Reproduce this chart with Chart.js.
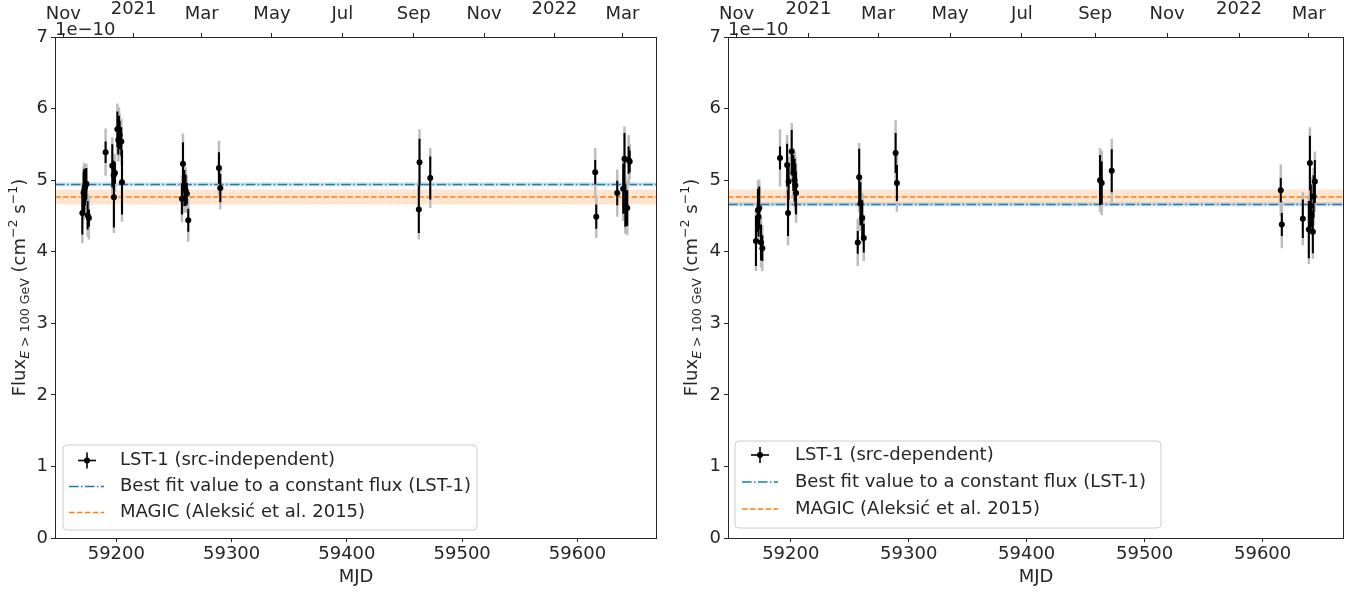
<!DOCTYPE html>
<html><head><meta charset="utf-8">
<script src="https://cdn.jsdelivr.net/npm/chart.js@4.4.0/dist/chart.umd.min.js"></script>
<style>
html,body{margin:0;padding:0;background:#fff;overflow:hidden}
#wrap{position:relative;width:1364px;height:593px}
canvas{position:absolute;top:0}
</style></head><body>
<div id="wrap">
<canvas id="c1" width="680" height="593" style="left:0"></canvas>
<canvas id="c2" width="684" height="593" style="left:680px"></canvas>
</div>
<script>
// ---------- data ----------
const mjdTicks = [59200, 59300, 59400, 59500, 59600];
const yTicks = [0, 1, 2, 3, 4, 5, 6, 7];
const topTickMjd = [59154, 59215, 59274, 59335, 59396, 59458, 59519, 59580, 59639];
const topTickLabels = ['Nov', '2021', 'Mar', 'May', 'Jul', 'Sep', 'Nov', '2022', 'Mar'];
const xRange = [59146.8, 59669.0];
const yRange = [0, 7];

// MAGIC reference (1e-10 cm^-2 s^-1)
const magicFlux = 4.765, magicErr = 0.105;

// left panel: src-independent
const indepMjd = [59170.5, 59171.6, 59172.2, 59172.8, 59173.4, 59174.0, 59175.1, 59176.2,
  59190.7, 59196.5, 59197.7, 59197.9, 59198.8, 59200.9, 59201.7, 59202.3, 59202.9, 59204.3, 59204.9,
  59256.9, 59257.8, 59259.0, 59260.1, 59261.2, 59262.4,
  59289.0, 59290.2,
  59462.4, 59463.0, 59472.3,
  59615.4, 59616.3, 59634.5, 59639.7, 59640.8, 59641.5, 59643.2, 59644.4, 59645.3];
const indepFlux = [4.54, 4.82, 4.86, 4.90, 4.93, 4.95, 4.51, 4.47,
  5.39, 5.20, 5.07, 4.76, 5.10, 5.71, 5.56, 5.70, 5.63, 5.54, 4.97,
  4.74, 5.23, 4.89, 4.86, 4.81, 4.44,
  5.17, 4.89,
  4.59, 5.25, 5.03,
  5.11, 4.49, 4.82, 4.88, 5.30, 4.65, 4.61, 5.28, 5.26];
const indepStat = [0.30, 0.30, 0.30, 0.25, 0.22, 0.22, 0.20, 0.12,
  0.15, 0.30, 0.20, 0.42, 0.15, 0.25, 0.20, 0.20, 0.20, 0.20, 0.45,
  0.22, 0.30, 0.25, 0.22, 0.15, 0.16,
  0.22, 0.20,
  0.33, 0.33, 0.30,
  0.17, 0.17, 0.17, 0.35, 0.36, 0.30, 0.25, 0.19, 0.15];
const indepTot = [0.42, 0.38, 0.38, 0.32, 0.30, 0.28, 0.30, 0.30,
  0.33, 0.40, 0.30, 0.50, 0.26, 0.36, 0.30, 0.32, 0.30, 0.32, 0.55,
  0.33, 0.42, 0.35, 0.32, 0.25, 0.30,
  0.38, 0.30,
  0.42, 0.46, 0.42,
  0.34, 0.30, 0.33, 0.45, 0.45, 0.40, 0.38, 0.35, 0.25];
const indepFit = 4.94, indepFitErr = 0.03;

// right panel: src-dependent
const depMjd = [59170.5, 59172.2, 59172.7, 59173.3, 59174.8, 59175.9,
  59190.9, 59196.9, 59197.7, 59198.2, 59200.8, 59202.2, 59203.3, 59203.9, 59204.5,
  59256.8, 59258.0, 59259.1, 59260.6, 59261.9,
  59288.9, 59290.0,
  59462.2, 59463.6, 59472.1,
  59615.4, 59616.3, 59634.1, 59639.2, 59640.1, 59640.9, 59642.6, 59643.2, 59644.3];
const depFlux = [4.15, 4.58, 4.49, 4.61, 4.13, 4.05,
  5.31, 5.21, 4.54, 4.98, 5.40, 5.10, 5.00, 4.93, 4.82,
  4.13, 5.04, 4.67, 4.47, 4.19,
  5.38, 4.96,
  5.00, 4.96, 5.13,
  4.86, 4.38, 4.46, 4.31, 5.24, 4.64, 4.28, 4.77, 4.98];
const depStat = [0.35, 0.30, 0.28, 0.30, 0.25, 0.18,
  0.16, 0.30, 0.32, 0.25, 0.30, 0.25, 0.30, 0.30, 0.30,
  0.16, 0.40, 0.30, 0.25, 0.20,
  0.28, 0.25,
  0.35, 0.30, 0.30,
  0.17, 0.16, 0.27, 0.40, 0.38, 0.30, 0.30, 0.30, 0.30];
const depTot = [0.42, 0.42, 0.38, 0.40, 0.35, 0.32,
  0.40, 0.42, 0.45, 0.35, 0.40, 0.35, 0.40, 0.40, 0.42,
  0.33, 0.48, 0.38, 0.35, 0.32,
  0.46, 0.40,
  0.45, 0.45, 0.45,
  0.36, 0.33, 0.37, 0.48, 0.50, 0.40, 0.38, 0.40, 0.42];
const depFit = 4.66, depFitErr = 0.03;

const legendLabels = {
  indep: ['LST-1 (src-independent)', 'Best fit value to a constant flux (LST-1)', 'MAGIC (Aleksić et al. 2015)'],
  dep: ['LST-1 (src-dependent)', 'Best fit value to a constant flux (LST-1)', 'MAGIC (Aleksić et al. 2015)']
};

// ---------- styling ----------
const FONT = '"DejaVu Sans", sans-serif';
const TXT = '#262626';
const BLUE = '#1f77b4', ORANGE = '#ff7f0e';

function segs(mjd, flux, err) {
  const d = [];
  for (let i = 0; i < mjd.length; i++) {
    d.push({x: mjd[i], y: flux[i] - err[i]}, {x: mjd[i], y: flux[i] + err[i]}, {x: mjd[i], y: null});
  }
  return d;
}
function hline(v) { return [{x: xRange[0], y: v}, {x: xRange[1], y: v}]; }

function drawYTitle(ctx, cx, cy) {
  const big = `18px ${FONT}`, sm = `12.6px ${FONT}`, smi = `italic 12.6px ${FONT}`;
  const parts = [
    {t: 'Flux', f: big, dy: 0}, {t: 'E', f: smi, dy: 4}, {t: ' > 100 GeV', f: sm, dy: 4},
    {t: ' (cm', f: big, dy: 0}, {t: '\u22122', f: sm, dy: -7.5}, {t: ' s', f: big, dy: 0},
    {t: '\u22121', f: sm, dy: -7.5}, {t: ')', f: big, dy: 0}];
  let total = 0;
  parts.forEach(p => { ctx.font = p.f; p.w = ctx.measureText(p.t).width; total += p.w; });
  ctx.save();
  ctx.translate(cx, cy); ctx.rotate(-Math.PI / 2);
  ctx.fillStyle = TXT; ctx.textBaseline = 'alphabetic'; ctx.textAlign = 'left';
  let x = -total / 2;
  parts.forEach(p => { ctx.font = p.f; ctx.fillText(p.t, x, 6.5 + p.dy); x += p.w; });
  ctx.restore();
}

function drawLegend(ctx, L, labels) {
  ctx.save();
  const {x, y, w, h} = L.box, r = 4;
  ctx.beginPath();
  ctx.moveTo(x + r, y); ctx.lineTo(x + w - r, y); ctx.quadraticCurveTo(x + w, y, x + w, y + r);
  ctx.lineTo(x + w, y + h - r); ctx.quadraticCurveTo(x + w, y + h, x + w - r, y + h);
  ctx.lineTo(x + r, y + h); ctx.quadraticCurveTo(x, y + h, x, y + h - r);
  ctx.lineTo(x, y + r); ctx.quadraticCurveTo(x, y, x + r, y); ctx.closePath();
  ctx.fillStyle = 'rgba(255,255,255,0.8)'; ctx.fill();
  ctx.strokeStyle = '#cccccc'; ctx.lineWidth = 1; ctx.stroke();
  // errorbar handle
  const cx = L.crossX, r0 = L.rows[0];
  ctx.strokeStyle = '#000'; ctx.lineWidth = 1.6;
  ctx.beginPath(); ctx.moveTo(cx, r0 - 8); ctx.lineTo(cx, r0 + 8); ctx.stroke();
  ctx.beginPath(); ctx.moveTo(cx - 9, r0); ctx.lineTo(cx + 9, r0); ctx.stroke();
  ctx.fillStyle = '#000'; ctx.beginPath(); ctx.arc(cx, r0, 3, 0, Math.PI * 2); ctx.fill();
  // line handles
  ctx.lineWidth = 1.5;
  ctx.strokeStyle = BLUE; ctx.setLineDash([9.6, 2.4, 1.5, 2.4]);
  ctx.beginPath(); ctx.moveTo(L.h0, L.rows[1]); ctx.lineTo(L.h1, L.rows[1]); ctx.stroke();
  ctx.strokeStyle = ORANGE; ctx.setLineDash([5.5, 2.4]);
  ctx.beginPath(); ctx.moveTo(L.h0, L.rows[2]); ctx.lineTo(L.h1, L.rows[2]); ctx.stroke();
  ctx.setLineDash([]);
  ctx.fillStyle = TXT; ctx.font = `18px ${FONT}`; ctx.textBaseline = 'middle'; ctx.textAlign = 'left';
  labels.forEach((t, i) => ctx.fillText(t, L.textX, L.rows[i]));
  ctx.restore();
}

function axisCommon() {
  return {
    grid: {display: true, drawOnChartArea: false, drawTicks: true, tickLength: 4, tickColor: TXT, tickWidth: 1, color: TXT},
    border: {display: false}
  };
}

function makeChart(id, p) {
  const ctx = document.getElementById(id).getContext('2d');
  const deco = {
    id: 'deco' + id,
    afterDraw(chart) {
      const c = chart.ctx, a = chart.chartArea;
      c.save();
      c.strokeStyle = TXT; c.lineWidth = 1;
      c.strokeRect(Math.round(a.left) + 0.5, Math.round(a.top) + 0.5, Math.round(a.right - a.left) - 1, Math.round(a.bottom - a.top));
      c.fillStyle = TXT; c.font = `18px ${FONT}`; c.textAlign = 'left'; c.textBaseline = 'alphabetic';
      c.fillText('1e\u221210', a.left, 34.5);
      c.restore();
      drawYTitle(c, p.yTitleX, (a.top + a.bottom) / 2);
      drawLegend(c, p.legend, p.labels);
    }
  };
  const com = axisCommon();
  return new Chart(ctx, {
    type: 'line',
    data: {datasets: [
      {data: p.mjd.map((m, i) => ({x: m, y: p.flux[i]})), showLine: false, pointRadius: 3, pointBackgroundColor: '#000', pointBorderWidth: 0, borderColor: '#000', xAxisID: 'x', yAxisID: 'y'},
      {data: segs(p.mjd, p.flux, p.stat), borderColor: '#000', borderWidth: 2, pointRadius: 0, spanGaps: false, xAxisID: 'x', yAxisID: 'y'},
      {data: segs(p.mjd, p.flux, p.tot), borderColor: '#bdbdbd', borderWidth: 2.5, pointRadius: 0, spanGaps: false, xAxisID: 'x', yAxisID: 'y'},
      {data: hline(p.fit), borderColor: BLUE, borderWidth: 1.5, borderDash: [9.6, 2.4, 1.5, 2.4], pointRadius: 0, xAxisID: 'x', yAxisID: 'y'},
      {data: hline(magicFlux), borderColor: ORANGE, borderWidth: 1.5, borderDash: [5.5, 2.4], pointRadius: 0, xAxisID: 'x', yAxisID: 'y'},
      {data: hline(p.fit + p.fitErr), borderWidth: 0, pointRadius: 0, fill: '+1', backgroundColor: 'rgba(31,119,180,0.2)', xAxisID: 'x', yAxisID: 'y'},
      {data: hline(p.fit - p.fitErr), borderWidth: 0, pointRadius: 0, fill: false, xAxisID: 'x', yAxisID: 'y'},
      {data: hline(magicFlux + magicErr), borderWidth: 0, pointRadius: 0, fill: '+1', backgroundColor: 'rgba(255,127,14,0.2)', xAxisID: 'x', yAxisID: 'y'},
      {data: hline(magicFlux - magicErr), borderWidth: 0, pointRadius: 0, fill: false, xAxisID: 'x', yAxisID: 'y'}
    ]},
    options: {
      responsive: false, animation: false, devicePixelRatio: 1,
      layout: {padding: {left: 0, right: p.padRight, top: 0, bottom: 0}},
      plugins: {legend: {display: false}, tooltip: {enabled: false}},
      elements: {line: {tension: 0}},
      scales: {
        x: Object.assign({}, com, {
          type: 'linear', position: 'bottom', min: xRange[0], max: xRange[1],
          afterBuildTicks: s => { s.ticks = mjdTicks.map(v => ({value: v})); },
          ticks: {color: TXT, font: {family: FONT, size: 18, lineHeight: 1.2}, padding: 2, maxRotation: 0, autoSkip: false, callback: v => String(v)},
          title: {display: true, text: 'MJD', color: TXT, font: {family: FONT, size: 18, lineHeight: 1.2}, padding: {top: 0, bottom: 5}},
          afterFit: s => { s.height = 55; }
        }),
        x2: Object.assign({}, com, {
          type: 'linear', position: 'top', min: xRange[0], max: xRange[1],
          afterBuildTicks: s => { s.ticks = topTickMjd.map(v => ({value: v})); },
          ticks: {color: TXT, padding: 8, maxRotation: 0, autoSkip: false,
            font: c => {
              const lbl = (c && c.tick) ? topTickLabels[topTickMjd.indexOf(c.tick.value)] : '';
              return {family: FONT, size: 18, lineHeight: /^\d{4}$/.test(lbl || '') ? 1.75 : 1.2};
            },
            callback: v => topTickLabels[topTickMjd.indexOf(v)]},
          afterFit: s => { s.height = 37; }
        }),
        y: Object.assign({}, com, {
          type: 'linear', position: 'left', min: yRange[0], max: yRange[1],
          afterBuildTicks: s => { s.ticks = yTicks.map(v => ({value: v})); },
          ticks: {color: TXT, font: {family: FONT, size: 18, lineHeight: 1.2}, padding: 3, callback: v => String(v)},
          afterFit: s => { s.width = p.yWidth; }
        })
      }
    },
    plugins: [deco]
  });
}

makeChart('c1', {
  mjd: indepMjd, flux: indepFlux, stat: indepStat, tot: indepTot, fit: indepFit, fitErr: indepFitErr,
  yWidth: 55, padRight: 680 - 657, yTitleX: 18, labels: legendLabels.indep,
  legend: {box: {x: 63, y: 445, w: 414, h: 85}, rows: [460.5, 486.5, 512.5], crossX: 87, h0: 69, h1: 104, textX: 120}
});
makeChart('c2', {
  mjd: depMjd, flux: depFlux, stat: depStat, tot: depTot, fit: depFit, fitErr: depFitErr,
  yWidth: 48, padRight: 684 - 664, yTitleX: 10, labels: legendLabels.dep,
  legend: {box: {x: 55, y: 441, w: 426, h: 87}, rows: [455, 482, 509], crossX: 80, h0: 62, h1: 98, textX: 115}
});
</script>
</body></html>
